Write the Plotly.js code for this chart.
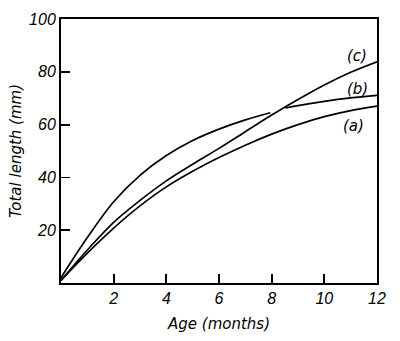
<!DOCTYPE html>
<html>
<head>
<meta charset="utf-8">
<script src="https://cdn.plot.ly/plotly-3.0.1.min.js"></script>
<style>
  html, body { margin: 0; padding: 0; background: #fff; }
  #chart { width: 400px; height: 341px; }
</style>
</head>
<body>
<div id="chart"></div>
<script>
// age in months
var ageA = [0, 1, 2, 3, 4, 5, 6, 7, 8, 9, 10, 11, 12];
var lenA = [1, 11.3, 20.8, 29.2, 36.4, 42.3, 47.5, 52.2, 56.4, 60, 63, 65.3, 67];

// (b) has a small break where (c) crosses it
var ageB = [0, 1, 2, 3, 4, 5, 6, 7, 7.95, 8.2, 8.52, 9, 10, 11, 12];
var lenB = [2, 17.2, 30.8, 40.8, 48.3, 54, 58.3, 61.8, 64.5, null, 66.3, 67.2, 68.8, 70.1, 71.1];

var ageC = [0, 1, 2, 3, 4, 5, 6, 7, 8, 9, 10, 11, 12];
var lenC = [1, 12.5, 23, 31.3, 38.7, 45, 51, 57.3, 63.6, 69.5, 75, 79.8, 83.8];

var curveNames = ['(a)', '(b)', '(c)'];
var labelX = [11.1, 11.25, 11.25];
var labelY = [59.5, 73.6, 85.8];

var xTicks = [2, 4, 6, 8, 10, 12];
var yTicks = [20, 40, 60, 80, 100];

var lineStyle = {color: '#000', width: 1.7, shape: 'spline', smoothing: 1};

var data = [
  {x: ageA, y: lenA, mode: 'lines', line: lineStyle, connectgaps: false, hoverinfo: 'skip'},
  {x: ageB, y: lenB, mode: 'lines', line: lineStyle, connectgaps: false, hoverinfo: 'skip'},
  {x: ageC, y: lenC, mode: 'lines', line: lineStyle, connectgaps: false, hoverinfo: 'skip'}
];

var tickFont = {family: 'Liberation Sans Narrow, Liberation Sans, sans-serif', size: 16, color: '#000', style: 'italic'};
var titleFont = {family: 'DejaVu Sans', size: 15, color: '#000', style: 'italic'};

var annotations = [];
for (var i = 0; i < curveNames.length; i++) {
  annotations.push({
    x: labelX[i], y: labelY[i], xref: 'x', yref: 'y',
    text: curveNames[i], showarrow: false,
    font: {family: 'DejaVu Sans', size: 15, color: '#000', style: 'italic'}
  });
}

var layout = {
  width: 400,
  height: 341,
  margin: {l: 61, r: 23, t: 19, b: 58},
  paper_bgcolor: '#fff',
  plot_bgcolor: '#fff',
  showlegend: false,
  xaxis: {
    range: [0, 12],
    tickvals: xTicks,
    ticktext: xTicks.map(String),
    ticks: 'inside',
    ticklen: 9,
    tickwidth: 1.8,
    tickcolor: '#000',
    showline: true,
    linewidth: 2,
    linecolor: '#000',
    mirror: true,
    showgrid: false,
    zeroline: false,
    tickfont: tickFont,
    title: {text: 'Age (months)', font: titleFont, standoff: 12}
  },
  yaxis: {
    range: [0, 100],
    tickvals: yTicks,
    ticktext: yTicks.map(String),
    ticks: 'inside',
    ticklen: 9,
    tickwidth: 1.8,
    tickcolor: '#000',
    showline: true,
    linewidth: 2,
    linecolor: '#000',
    mirror: true,
    showgrid: false,
    zeroline: false,
    tickfont: tickFont,
    title: {text: 'Total length (mm)', font: titleFont, standoff: 4}
  },
  annotations: annotations
};

Plotly.newPlot('chart', data, layout, {staticPlot: true});
</script>
</body>
</html>
